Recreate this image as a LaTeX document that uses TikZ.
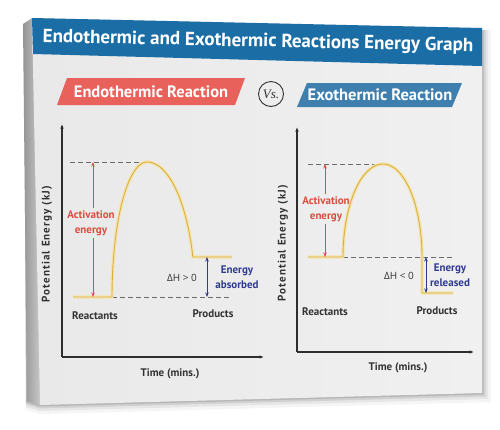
\documentclass[tikz,border=0pt]{standalone}
\usepackage{fontspec}
\setmainfont{PT Sans}
\newfontfamily\dhfont{Open Sans}
\newfontfamily\vsfont{Liberation Serif}
\usetikzlibrary{arrows.meta}
\definecolor{titleblue}{HTML}{1B6EA5}
\definecolor{endored}{HTML}{E8625B}
\definecolor{exoblue}{HTML}{3F7FAE}
\definecolor{faceA}{HTML}{E9E9E9}
\definecolor{faceB}{HTML}{F0F0F0}
\definecolor{labelgray}{HTML}{333333}
\definecolor{axisgray}{HTML}{2E2E2E}
\definecolor{dashgray}{HTML}{6A6A6A}
\definecolor{actred}{HTML}{DD4C3E}
\definecolor{navy}{HTML}{2F3A8F}
\definecolor{curvegold}{HTML}{D8B040}
\definecolor{curvelight}{HTML}{F5E4AE}
\tikzset{
  lbl/.style={font=\bfseries\fontsize{11}{13}\selectfont, text=labelgray, inner sep=0pt},
  axislbl/.style={font=\bfseries\fontsize{11}{13}\selectfont\addfontfeature{LetterSpace=10}, text=labelgray, inner sep=0pt, rotate=90},
  redlbl/.style={font=\bfseries\fontsize{11}{14.5}\selectfont, text=actred, align=center, inner sep=2pt},
  bluelbl/.style={font=\bfseries\fontsize{11}{14.5}\selectfont, text=navy, align=center, inner sep=0pt},
  dhlbl/.style={font=\dhfont\fontsize{10}{11}\selectfont, text=labelgray, inner sep=0pt},
  bannertxt/.style={font=\bfseries\fontsize{16.5}{18}\selectfont, text=white, inner sep=0pt},
  axisline/.style={draw=axisgray, line width=1.1pt, -{Latex[length=4.5pt,width=3.5pt]}},
  dashline/.style={draw=dashgray, line width=0.8pt, dash pattern=on 5pt off 3pt},
  energycurve/.style={draw=curvegold, line width=0.9pt, line join=round,
     preaction={draw=curvelight, line width=3.4pt, line join=round}},
  redarrow/.style={draw=actred, line width=0.8pt, -{Stealth[length=4.5pt,width=3.5pt]}},
  bluearrow/.style={draw=navy, line width=0.8pt, {Stealth[length=4.5pt,width=3.5pt]}-{Stealth[length=4.5pt,width=3.5pt]}},
}
\begin{document}
\begin{tikzpicture}[x=1pt,y=-1pt]
\useasboundingbox (0,0) rectangle (500,429);
\fill[white] (0,0) rectangle (500,429);
% soft shadow of the canvas
\foreach \d/\o in {9/0.04,6/0.06,3.5/0.09,1.5/0.12}{
  \fill[black,opacity=\o] (24,24) -- (482+\d,30) -- (482+\d,393+\d) -- (40,405+\d) -- (26,401+\d) -- cycle;}
% canvas side and face
\shade[left color=black!42, right color=black!22] (23,24) -- (32,18) -- (40,405) -- (27,401) -- cycle;
\shade[left color=faceA, right color=faceB] (32,18) -- (482,28) -- (482,393) -- (40,405) -- cycle;
% title banner
\fill[titleblue] (32,18) -- (482,28) -- (482,66) -- (33,54) -- cycle;
\node[font=\bfseries\fontsize{19}{22}\selectfont, text=white, inner sep=0pt, rotate=-1.2] (title) at (258,42) {Endothermic and Exothermic Reactions Energy Graph};
% sub banners
\fill[endored] (67,78) -- (245,78) -- (235,105) -- (57,105) -- cycle;
\node[bannertxt] (endo) at (151,92) {Endothermic Reaction};
\node[draw=labelgray, line width=0.9pt, circle, minimum size=25pt, inner sep=0pt,
      font=\vsfont\itshape\fontsize{13}{14}\selectfont, text=labelgray] (vs) at (271,94) {Vs.};
\fill[exoblue] (307,83) -- (462,83) -- (452,107) -- (297,107) -- cycle;
\node[bannertxt] (exo) at (380,95) {Exothermic Reaction};

% ================= left graph (endothermic)
\coordinate (LO) at (62,357);
\coordinate (LY) at (62,124);
\coordinate (LX) at (264,357);
\draw[axisline] (LO) -- (LY);
\draw[axisline] (LO) -- (LX);
\coordinate (LTop1) at (70,162);
\coordinate (LPeak) at (147,162);
\coordinate (LR1) at (73,297);
\coordinate (LR2) at (112,297);
\coordinate (LP1) at (193,257);
\coordinate (LP2) at (232,257);
\coordinate (LD2) at (230,297);
\draw[dashline] (LTop1) -- (LPeak);
\draw[dashline] (LR2) -- (LD2);
\draw[energycurve] (LR1) -- (LR2)
  -- plot[domain=0:90, samples=40] ({147-35*cos(\x)},{297-135*sin(\x)})
  -- plot[domain=90:17.2, samples=40] ({147+48*cos(\x)},{297-135*sin(\x)})
  -- (LP1) -- (LP2);
\node[redlbl] (actL) at (91,223) {Activation\\energy};
\coordinate (LAtop) at (93,162);
\coordinate (LAbot) at (93,297);
\draw[redarrow] (actL.north -| LAtop) -- (LAtop);
\draw[redarrow] (actL.south -| LAbot) -- (LAbot);
\coordinate (LBtop) at (207,257);
\coordinate (LBbot) at (207,297);
\draw[bluearrow] (LBtop) -- (LBbot);
\node[bluelbl] (absorbed) at (237,277) {Energy\\absorbed};
\node[dhlbl] (dhL) at (182,278) {ΔH > 0};
\node[lbl] (reacL) at (95,316) {Reactants};
\node[lbl] (prodL) at (213,314) {Products};
\node[lbl] (timeL) at (170,374) {Time (mins.)};
\node[axislbl] (peL) at (47,244) {Potential Energy (kJ)};

% ================= right graph (exothermic)
\coordinate (RO) at (297,352);
\coordinate (RY) at (297,127);
\coordinate (RX) at (474,352);
\draw[axisline] (RO) -- (RY);
\draw[axisline] (RO) -- (RX);
\coordinate (RTop1) at (308,164);
\coordinate (RPeak) at (383,164);
\coordinate (RR1) at (308,257);
\coordinate (RR2) at (343,257);
\coordinate (RP1) at (422,293);
\coordinate (RP2) at (453,293);
\coordinate (RD2) at (452,257);
\draw[dashline] (RTop1) -- (RPeak);
\draw[dashline] (RR2) -- (RD2);
\draw[energycurve] (RR1) -- (RR2)
  -- plot[domain=0:90, samples=40] ({383-40*cos(\x)},{257-93*sin(\x)})
  -- plot[domain=90:0, samples=40] ({383+39*cos(\x)},{257-93*sin(\x)})
  -- (RP1) -- (RP2);
\node[redlbl] (actR) at (326,209) {Activation\\energy};
\coordinate (RAtop) at (325,164);
\coordinate (RAbot) at (325,257);
\draw[redarrow] (actR.north -| RAtop) -- (RAtop);
\draw[redarrow] (actR.south -| RAbot) -- (RAbot);
\coordinate (RBtop) at (426,257);
\coordinate (RBbot) at (426,293);
\draw[bluearrow] (RBtop) -- (RBbot);
\node[bluelbl] (released) at (450,275) {Energy\\released};
\node[dhlbl] (dhR) at (399,276) {ΔH < 0};
\node[lbl] (reacR) at (325,312) {Reactants};
\node[lbl] (prodR) at (437,311) {Products};
\node[lbl] (timeR) at (398,368) {Time (mins.)};
\node[axislbl] (peR) at (283,243) {Potential Energy (kJ)};
\end{tikzpicture}
\end{document}
